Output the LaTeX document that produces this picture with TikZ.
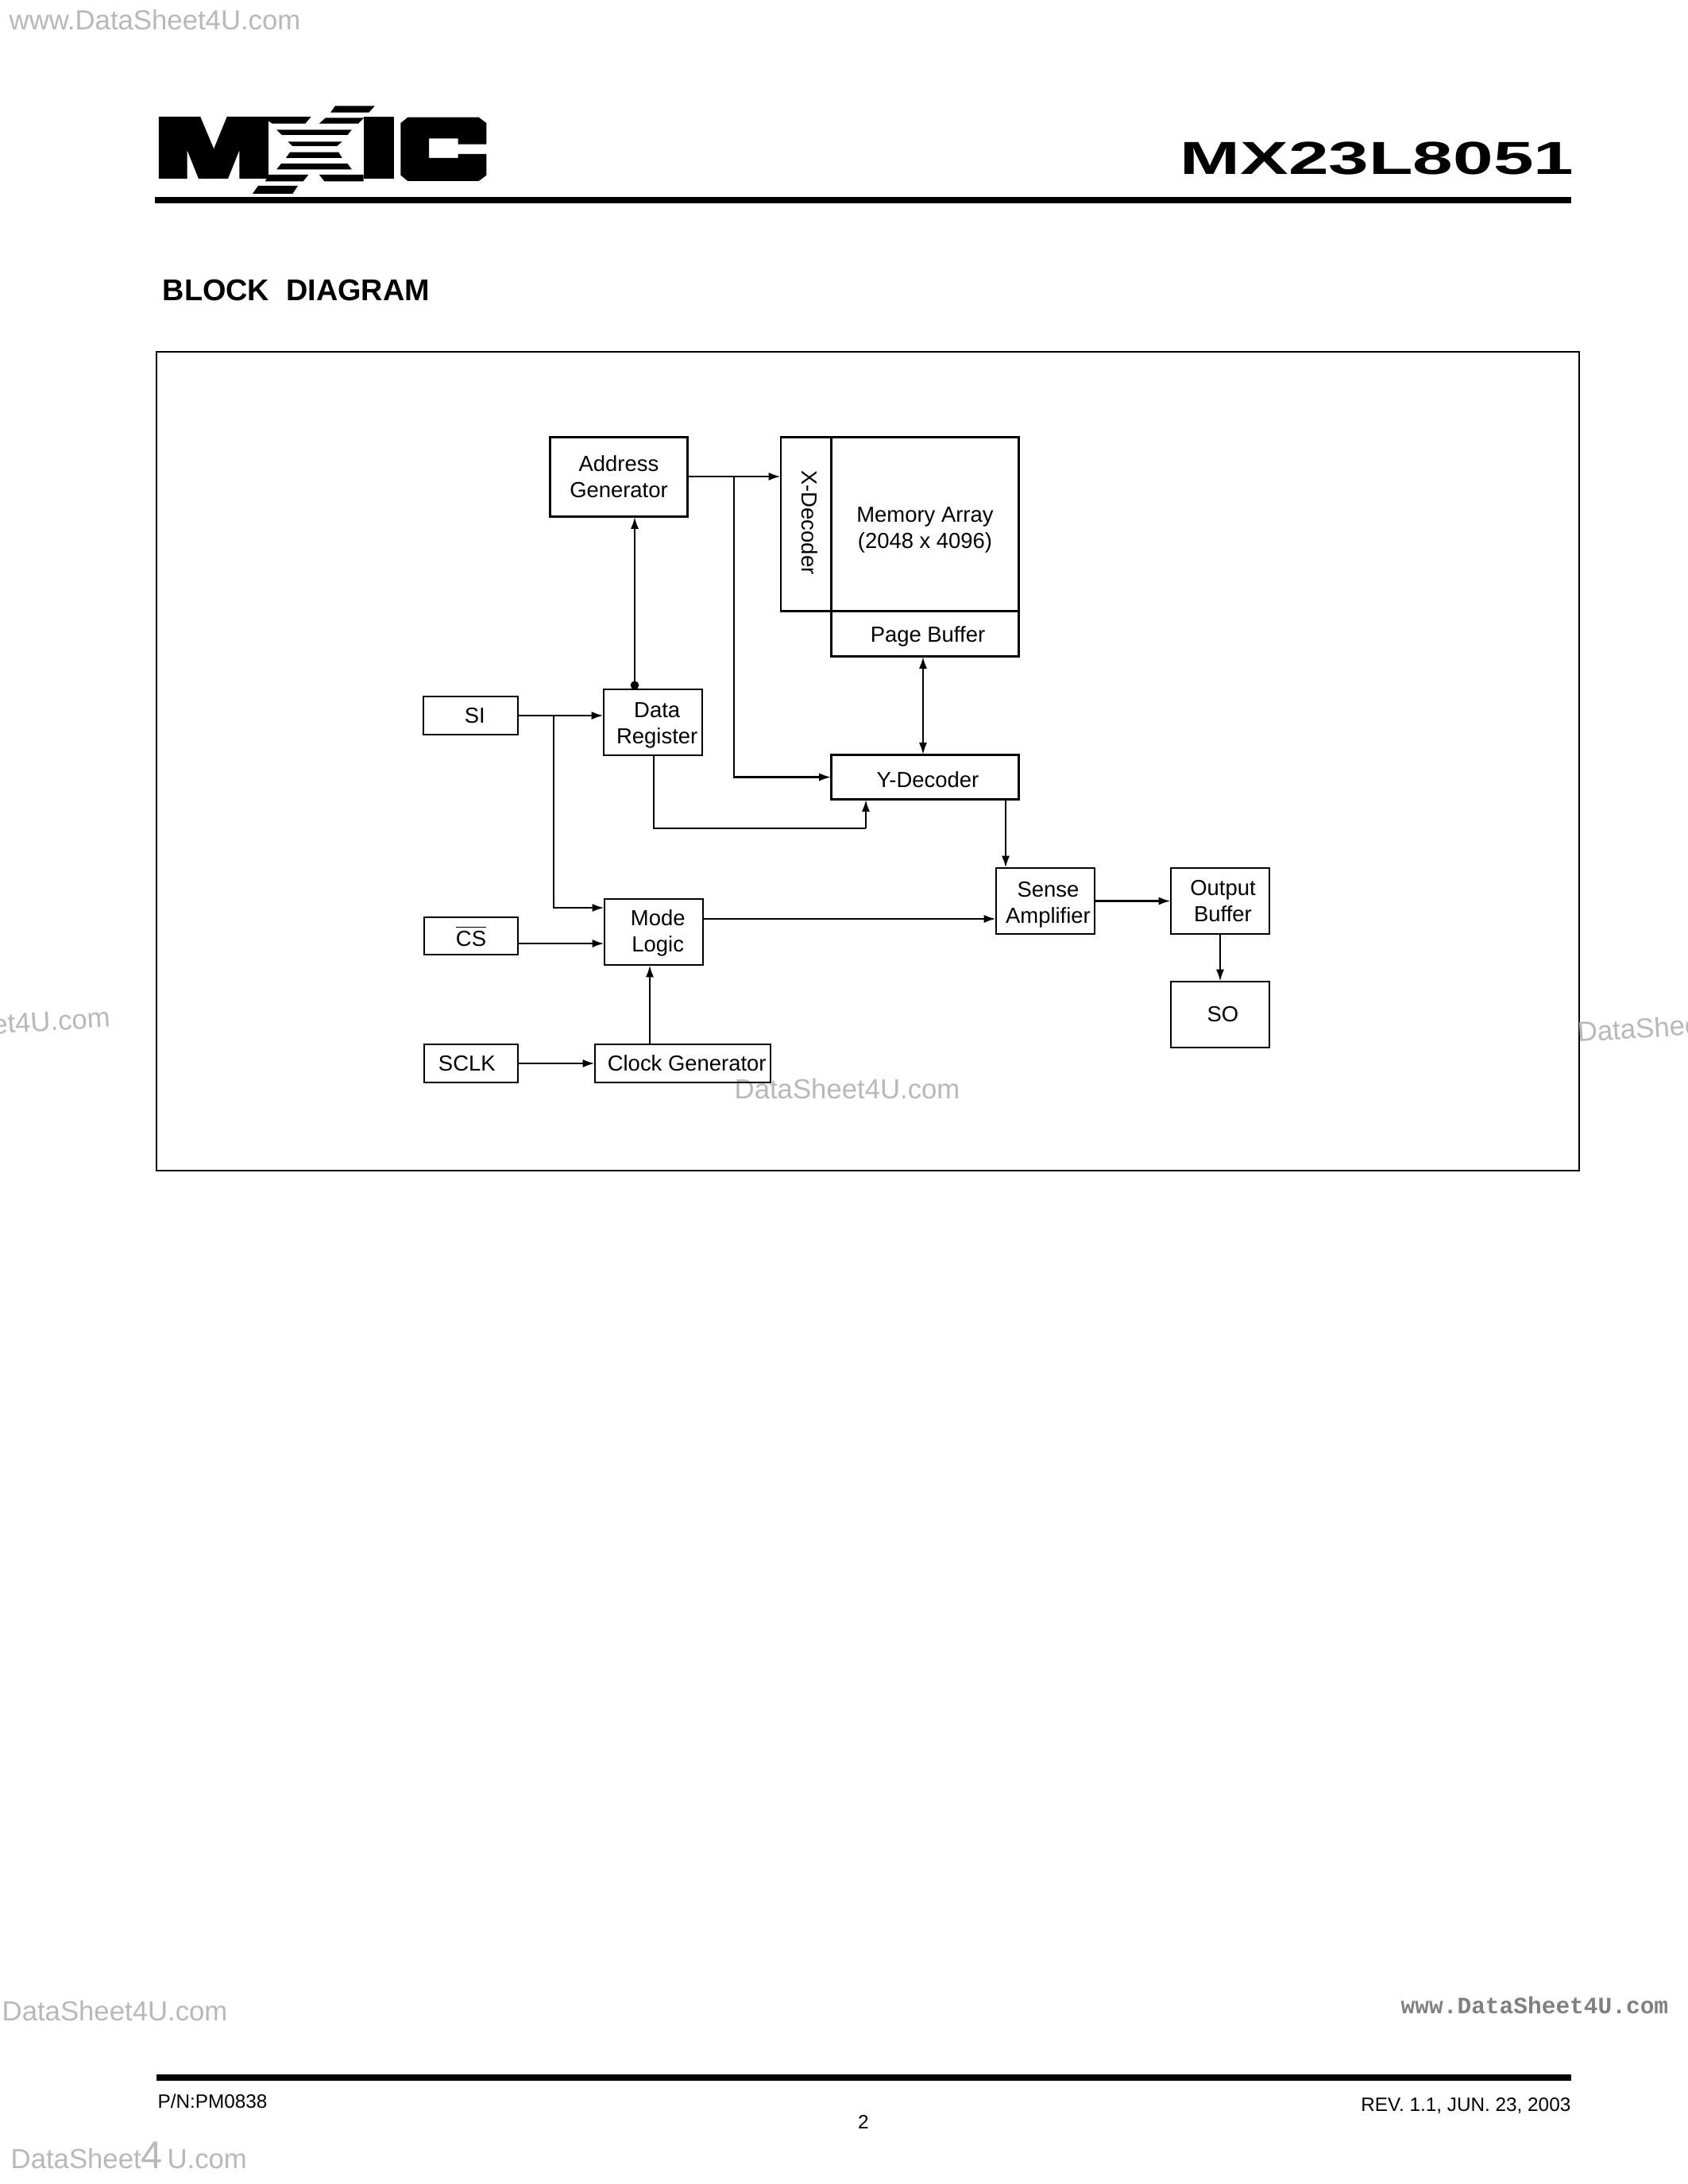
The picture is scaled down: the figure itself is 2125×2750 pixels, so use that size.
\documentclass[tikz,border=0pt]{standalone}
\usepackage{fontspec}
\setmainfont{Liberation Sans}
\newfontfamily\markfont{Liberation Mono}
\usetikzlibrary{arrows.meta}
\definecolor{markgray}{gray}{0.72}
\definecolor{markdark}{gray}{0.5}
\newcommand{\dropby}[1]{\rule{0pt}{#1pt}}
\newcommand{\pushby}[1]{\hspace*{#1pt}}
\tikzset{
    block/.style={draw, line width=0.8pt, inner sep=0pt, outer sep=0pt, align=center,
        font=\fontsize{7.9}{9.5}\selectfont},
    boxsize/.style 2 args={minimum width=#1*0.288pt, minimum height=#2*0.288pt},
    flow/.style={draw, line width=0.8pt, -{Latex[length=4.4pt,width=2.9pt]}},
    both/.style={draw, line width=0.8pt, {Latex[length=4.4pt,width=2.9pt]}-{Latex[length=4.4pt,width=2.9pt]}},
    wire/.style={draw, line width=0.8pt},
    footer/.style={inner sep=0pt, font=\fontsize{7}{8}\selectfont},
    wmark/.style={inner sep=0pt, text=markgray, font=\fontsize{10}{12}\selectfont},
    heavy/.style={fill=black, draw=none}
}
\begin{document}
\begin{tikzpicture}[x=0.288pt, y=-0.288pt]
        \useasboundingbox (0,0) rectangle (2125,2750);
        % logo
        \begin{scope}[xscale=0.4464, yscale=0.3333]
            \fill (448,441) -- (565,441) -- (603,562) -- (640,441) -- (757,441) -- (757,675) -- (675,675)
                -- (675,568) -- (643,675) -- (560,675) -- (528,568) -- (528,675) -- (448,675) -- cycle;
            \fill (757,441) -- (877,441) -- (861,467) -- (768,467) -- (757,457) -- cycle;
            \fill (945,400) -- (1057,400) -- (1040,425) -- (932,425) -- cycle;
            \fill (918,445) -- (1027,445) -- (1010,467) -- (900,467) -- cycle;
            \fill (780,490) -- (992,490) -- (980,510) -- (795,510) -- cycle;
            \fill (812,535) -- (965,535) -- (950,552) -- (825,552) -- cycle;
            \fill (818,575) -- (955,575) -- (965,597) -- (806,597) -- cycle;
            \fill (793,618) -- (980,618) -- (992,640) -- (780,640) -- cycle;
            \fill (757,660) -- (870,660) -- (855,685) -- (748,685) -- cycle;
            \fill (900,660) -- (1025,660) -- (1025,685) -- (915,685) -- cycle;
            \fill (728,702) -- (840,702) -- (825,732) -- (712,732) -- cycle;
            \fill (1027,441) rectangle (1110,675);
            \fill (1150,443) -- (1350,443) -- (1372,465) -- (1372,545) -- (1292,545) -- (1292,523) -- (1210,523)
                -- (1210,597) -- (1292,597) -- (1292,582) -- (1372,582) -- (1372,662) -- (1350,684) -- (1150,684)
                -- (1130,662) -- (1130,465) -- cycle;
        \end{scope}
        % page furniture
        \node (partno) [anchor=base east, inner sep=0pt, font=\bfseries\fontsize{16.8}{18}\selectfont] at (1982,219) {\scalebox{1.56}[1]{MX23L8051}};
        \fill[heavy] (195,248) rectangle (1978,256);
        \node (heading) [anchor=base west, inner sep=0pt, font=\bfseries\fontsize{10.9}{12}\selectfont] at (204,378) {BLOCK\ \ DIAGRAM};
        \draw[line width=0.8pt] (197,443) rectangle (1988,1474);
        \fill[heavy] (197,2612) rectangle (1978,2620);
        \node (pn) [footer, anchor=base west] at (198,2654) {P/N:PM0838};
        \node (page) [footer, anchor=base] at (1087,2680) {2};
        \node (rev) [footer, anchor=base east] at (1978,2658) {REV. 1.1, JUN. 23, 2003};
        % watermarks
        \node (wm1) [wmark, anchor=base west, font=\fontsize{10}{12}\selectfont] at (11,37) {www.DataSheet4U.com};
        \node (wm2) [wmark, anchor=base west] at (924,1383) {DataSheet4U.com};
        \node (wm3) [wmark, anchor=base west] at (2,2544) {DataSheet4U.com};
        \node (wm4) [wmark, anchor=base west] at (13,2730) {DataSheet{\fontsize{14}{14}\selectfont 4}\,U.com};
        \node (wm5) [wmark, anchor=base east, rotate=3.5] at (140,1293) {et4U.com};
        \node (wm6) [wmark, anchor=base west, rotate=3.5] at (1986,1312) {DataShee};
        \node (wm7) [anchor=base west, inner sep=0pt, text=markdark, font=\markfont\bfseries\fontsize{8.5}{10}\selectfont] at (1763,2535) {www.DataSheet4U.com};
        % blocks
        \node (addrgen) [block, boxsize={173}{100}] at (779,600.5) {Address\\Generator};
        \node (xdec) [block, boxsize={63}{219}] at (1014.5,660) {};
        \node (xlabel) [inner sep=0pt, rotate=-90, font=\fontsize{7.9}{9.5}\selectfont] at (1019,658) {X-Decoder};
        \node (memory) [block, boxsize={236}{219}] at (1164.5,660) {\dropby{9.5}Memory Array\\(2048 x 4096)};
        \node (pagebuf) [block, boxsize={236}{57}] at (1164.5,798) {\pushby{2}\dropby{7.8}Page Buffer};
        \node (ydec) [block, boxsize={236}{56}] at (1164.5,978.5) {\pushby{2}\dropby{7.8}Y-Decoder};
        \node (si) [block, boxsize={119}{48}] at (592.5,901) {\pushby{3}SI};
        \node (datareg) [block, boxsize={124}{83}] at (822,909.5) {\pushby{3}\dropby{7.7}Data\\\pushby{3}Register};
        \node (mode) [block, boxsize={124}{83}] at (823,1173.5) {\pushby{3}\dropby{6.5}Mode\\\pushby{3}Logic};
        \node (cs) [block, boxsize={118}{47}] at (593,1178.5) {$\overline{\mbox{CS}}$};
        \node (sclk) [block, boxsize={118}{48}] at (593,1339) {SCLK\pushby{3}};
        \node (clkgen) [block, boxsize={221}{48}] at (859.5,1339) {\pushby{3}Clock Generator};
        \node (sense) [block, boxsize={124}{83}] at (1316,1134.5) {\pushby{2}\dropby{8.5}Sense\\\pushby{2}Amplifier};
        \node (outbuf) [block, boxsize={124}{83}] at (1536,1134.5) {\pushby{2}Output\\\pushby{2}Buffer};
        \node (so) [block, boxsize={124}{83}] at (1536,1277.5) {\pushby{2}SO};
        % junctions
        \coordinate (addrtap) at (924,600);
        \coordinate (sitap) at (697,901);
        \coordinate (regbus) at (799,0);
        \coordinate (pagebus) at (1162,0);
        \coordinate (regdrop) at (823,1043);
        \coordinate (regrise) at (1090,1043);
        \coordinate (ydecout) at (1266,0);
        \coordinate (clkup) at (818,0);
        \coordinate (outdown) at (1536,0);
        \coordinate (modein) at (0,1143);
        \coordinate (modeout) at (0,1157);
        \coordinate (csin) at (0,1188);
        % connectors
        \draw[flow] (addrgen.east |- addrtap) -- (xdec.west |- addrtap);
        \draw[flow] (addrtap) -- (addrtap |- ydec.west) -- (ydec.west);
        \draw[{Circle[length=3pt]}-{Latex[length=4.4pt,width=2.9pt]}, wire] (regbus |- datareg.north) -- (regbus |- addrgen.south);
        \draw[both] (pagebus |- pagebuf.south) -- (pagebus |- ydec.north);
        \draw[flow] (si.east) -- (datareg.west |- si.east);
        \draw[flow] (sitap) -- (sitap |- modein) -- (mode.west |- modein);
        \draw[wire] (regdrop |- datareg.south) -- (regdrop) -- (regrise);
        \draw[flow] (regrise) -- (regrise |- ydec.south);
        \draw[flow] (ydecout |- ydec.south) -- (ydecout |- sense.north);
        \draw[flow] (mode.east |- modeout) -- (sense.west |- modeout);
        \draw[flow] (sense.east) -- (outbuf.west |- sense.east);
        \draw[flow] (cs.east |- csin) -- (mode.west |- csin);
        \draw[flow] (clkup |- clkgen.north) -- (clkup |- mode.south);
        \draw[flow] (sclk.east) -- (clkgen.west);
        \draw[flow] (outdown |- outbuf.south) -- (outdown |- so.north);
\end{tikzpicture}
\end{document}
